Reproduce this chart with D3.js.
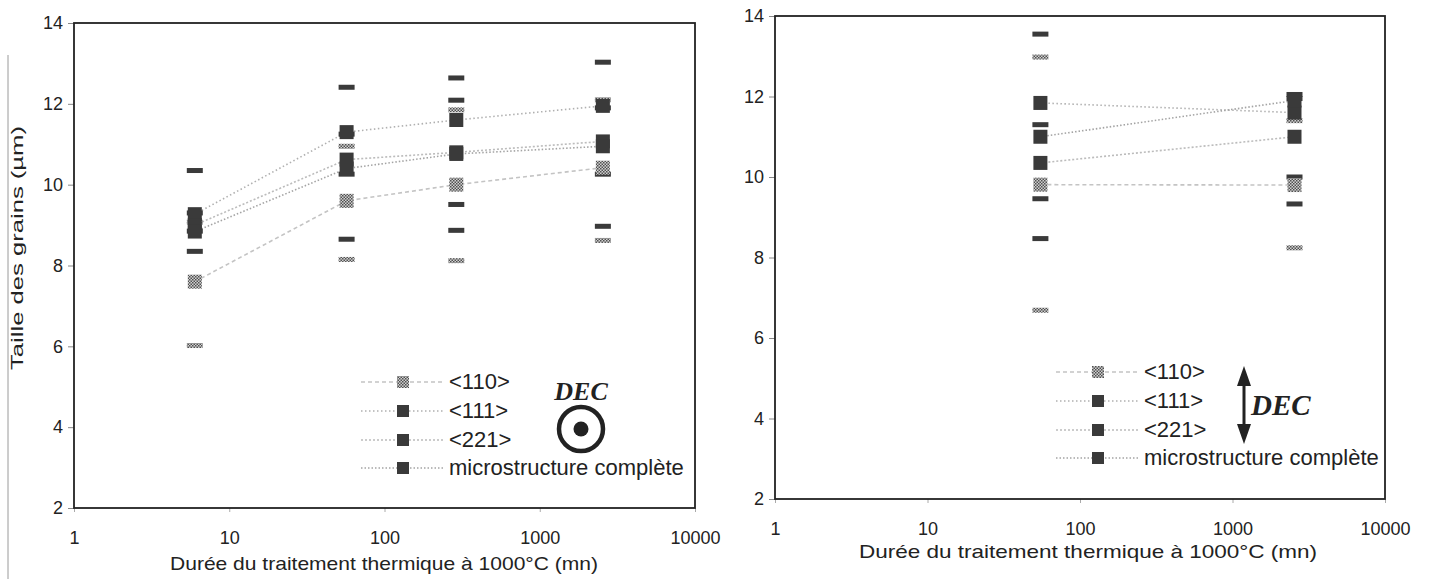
<!DOCTYPE html>
<html>
<head>
<meta charset="utf-8">
<script src="https://cdn.jsdelivr.net/npm/d3@7"></script>
<style>
  html, body { margin: 0; padding: 0; background: #fff; }
  svg { display: block; font-family: "Liberation Sans", Arial, sans-serif; }
</style>
</head>
<body>
<svg id="chart" width="1431" height="579"></svg>
<script>
// ---------- Data ----------
const xTickValues = [1, 10, 100, 1000, 10000];
const yTickValues = [2, 4, 6, 8, 10, 12, 14];
const seriesNames = ["<110>", "<111>", "<221>", "microstructure complète"];
const xTitle = "Durée du traitement thermique à 1000°C (mn)";
const yTitle = "Taille des grains (µm)";

// Left chart (DEC perpendicular)
const leftTimes = [6, 57, 290, 2550];
const leftMean110 = [7.6, 9.6, 10.0, 10.42];
const leftMax110  = [9.07, 10.95, 11.85, 12.1];
const leftMin110  = [6.02, 8.15, 8.12, 8.62];
const leftMean111 = [9.27, 11.3, 11.6, 11.95];
const leftMax111  = [10.35, 12.41, 12.64, 13.03];
const leftMin111  = [8.35, 8.65, 8.87, 8.97];
const leftMean221 = [9.0, 10.62, 10.8, 11.07];
const leftMax221  = [9.3, 11.25, 12.09, 11.9];
const leftMin221  = [8.85, 10.26, 9.51, 10.26];
const leftMeanAll = [8.84, 10.4, 10.76, 10.95];

// Right chart (DEC in plane)
const rightTimes = [55, 2550];
const rightMean110 = [9.81, 9.8];
const rightMax110  = [12.98, 11.4];
const rightMin110  = [6.69, 8.24];
const rightMean111 = [11.84, 11.6];
const rightMean221 = [10.35, 11.0];
const rightMax221  = [11.3, 11.95];
const rightMin221  = [9.46, 10.0];
const rightMeanAll = [11.0, 11.9];
const rightMaxAll  = [13.55, 12.05];
const rightMinAll  = [8.47, 9.33];

// ---------- Styles ----------
const lineStyles = [
  { stroke: "#c4c4c4", dash: "4,3", fill: "url(#hatch)" },
  { stroke: "#b0b0b0", dash: "1.5,2.5", fill: "#3a3a3a" },
  { stroke: "#bcbcbc", dash: "2,2", fill: "#3a3a3a" },
  { stroke: "#a4a4a4", dash: "1.5,2", fill: "#3a3a3a" }
];

const svg = d3.select("#chart");
const defs = svg.append("defs");
const pat = defs.append("pattern").attr("id", "hatch").attr("patternUnits", "userSpaceOnUse")
  .attr("width", 3).attr("height", 3);
pat.append("rect").attr("width", 3).attr("height", 3).attr("fill", "#d0d0d0");
pat.append("rect").attr("width", 1.5).attr("height", 1.5).attr("fill", "#505050");
pat.append("rect").attr("x", 1.5).attr("y", 1.5).attr("width", 1.5).attr("height", 1.5).attr("fill", "#505050");

// scan artifact vertical line on far left
svg.append("line").attr("x1", 8).attr("x2", 8).attr("y1", 55).attr("y2", 579)
  .attr("stroke", "#9a9a9a").attr("stroke-width", 1);

function drawChart(cfg) {
  const g = svg.append("g");
  const x = d3.scaleLog().domain([1, 10000]).range([cfg.left, cfg.right]);
  const y = d3.scaleLinear().domain([2, 14]).range([cfg.bottom, cfg.top]);

  // Y axis
  const yAxis = d3.axisLeft(y).tickValues(yTickValues).tickSize(6).tickPadding(5)
    .tickFormat(d3.format("d"));
  const ya = g.append("g").attr("transform", `translate(${cfg.left},0)`).call(yAxis);
  ya.select(".domain").remove();
  ya.selectAll(".tick line").attr("stroke", "#888");
  ya.selectAll(".tick text").attr("font-size", 18).attr("fill", "#222")
    .attr("font-family", "Liberation Sans, Arial, sans-serif");

  // X axis
  const xAxis = d3.axisBottom(x).tickValues(xTickValues).tickSize(4).tickPadding(19)
    .tickFormat(d3.format("d"));
  const xa = g.append("g").attr("transform", `translate(0,${cfg.bottom})`).call(xAxis);
  xa.select(".domain").remove();
  xa.selectAll(".tick line").attr("stroke", "#aaa");
  xa.selectAll(".tick text").attr("font-size", 18).attr("fill", "#222")
    .attr("font-family", "Liberation Sans, Arial, sans-serif");

  // plot box
  g.append("rect").attr("x", cfg.left).attr("y", cfg.top)
    .attr("width", cfg.right - cfg.left).attr("height", cfg.bottom - cfg.top)
    .attr("fill", "none").attr("stroke", "#222").attr("stroke-width", 1.8);

  // X title
  g.append("text").attr("x", cfg.xTitleX).attr("y", cfg.xTitleY)
    .attr("text-anchor", "middle").attr("font-size", 19).attr("fill", "#222")
    .attr("textLength", cfg.xTitleLen).attr("lengthAdjust", "spacingAndGlyphs").text(xTitle);

  // Lines
  const line = d3.line().x(d => x(d.t)).y(d => y(d.v));
  cfg.series.forEach((s, i) => {
    const pts = cfg.times.map((t, k) => ({ t, v: s.mean[k] }));
    g.append("path").attr("d", line(pts)).attr("fill", "none")
      .attr("stroke", lineStyles[i].stroke).attr("stroke-width", 1.6)
      .attr("stroke-dasharray", lineStyles[i].dash);
  });

  // min / max dashes
  cfg.series.forEach((s, i) => {
    ["max", "min"].forEach(key => {
      if (!s[key]) return;
      cfg.times.forEach((t, k) => {
        const v = s[key][k];
        if (v == null) return;
        g.append("rect").attr("x", x(t) - 8).attr("y", y(v) - 2.5)
          .attr("width", 16).attr("height", 5)
          .attr("fill", lineStyles[i].fill);
      });
    });
  });

  // mean squares
  cfg.series.forEach((s, i) => {
    cfg.times.forEach((t, k) => {
      g.append("rect").attr("x", x(t) - 7).attr("y", y(s.mean[k]) - 7)
        .attr("width", 14).attr("height", 14).attr("fill", lineStyles[i].fill);
    });
  });

  // Legend
  cfg.legendRows.forEach((ry, i) => {
    g.append("line").attr("x1", cfg.legendX - 42).attr("x2", cfg.legendX + 40)
      .attr("y1", ry).attr("y2", ry)
      .attr("stroke", lineStyles[i].stroke).attr("stroke-width", 1.4)
      .attr("stroke-dasharray", lineStyles[i].dash);
    g.append("rect").attr("x", cfg.legendX - 6).attr("y", ry - 6)
      .attr("width", 12).attr("height", 12).attr("fill", lineStyles[i].fill);
    g.append("text").attr("x", cfg.legendX + 46).attr("y", ry + 7)
      .attr("font-size", 22).attr("fill", "#222").text(seriesNames[i]);
  });
  return g;
}

// Left chart
drawChart({
  left: 74, right: 695, top: 23, bottom: 508,
  xTitleX: 384, xTitleY: 570, xTitleLen: 428,
  times: leftTimes,
  series: [
    { mean: leftMean110, max: leftMax110, min: leftMin110 },
    { mean: leftMean111, max: leftMax111, min: leftMin111 },
    { mean: leftMean221, max: leftMax221, min: leftMin221 },
    { mean: leftMeanAll }
  ],
  legendX: 403, legendRows: [382, 411, 440, 468]
});

// y-axis title (left chart)
svg.append("text").attr("transform", "translate(23,248) rotate(-90)")
  .attr("text-anchor", "middle").attr("font-size", 17).attr("fill", "#222")
  .attr("textLength", 244).attr("lengthAdjust", "spacingAndGlyphs").text(yTitle);

// DEC symbol (left)
svg.append("text").attr("x", 581).attr("y", 400).attr("text-anchor", "middle")
  .attr("font-family", "Liberation Serif, Times New Roman, serif").attr("font-weight", "bold")
  .attr("font-style", "italic").attr("font-size", 26).attr("fill", "#222").text("DEC");
svg.append("circle").attr("cx", 581).attr("cy", 429).attr("r", 22)
  .attr("fill", "none").attr("stroke", "#222").attr("stroke-width", 4.5);
svg.append("circle").attr("cx", 581).attr("cy", 429).attr("r", 7.5).attr("fill", "#222");

// Right chart
drawChart({
  left: 775, right: 1385, top: 16, bottom: 499,
  xTitleX: 1088, xTitleY: 558, xTitleLen: 458,
  times: rightTimes,
  series: [
    { mean: rightMean110, max: rightMax110, min: rightMin110 },
    { mean: rightMean111 },
    { mean: rightMean221, max: rightMax221, min: rightMin221 },
    { mean: rightMeanAll, max: rightMaxAll, min: rightMinAll }
  ],
  legendX: 1098, legendRows: [372, 401, 430, 458]
});

// DEC double arrow (right)
const ax = 1244;
svg.append("line").attr("x1", ax).attr("x2", ax).attr("y1", 380).attr("y2", 432)
  .attr("stroke", "#222").attr("stroke-width", 3);
svg.append("path").attr("d", `M${ax},366 L${ax - 7},386 L${ax + 7},386 Z`).attr("fill", "#222");
svg.append("path").attr("d", `M${ax},444 L${ax - 7},424 L${ax + 7},424 Z`).attr("fill", "#222");
svg.append("text").attr("x", 1251).attr("y", 415)
  .attr("font-family", "Liberation Serif, Times New Roman, serif").attr("font-weight", "bold")
  .attr("font-style", "italic").attr("font-size", 29).attr("fill", "#222").text("DEC");
</script>
</body>
</html>
